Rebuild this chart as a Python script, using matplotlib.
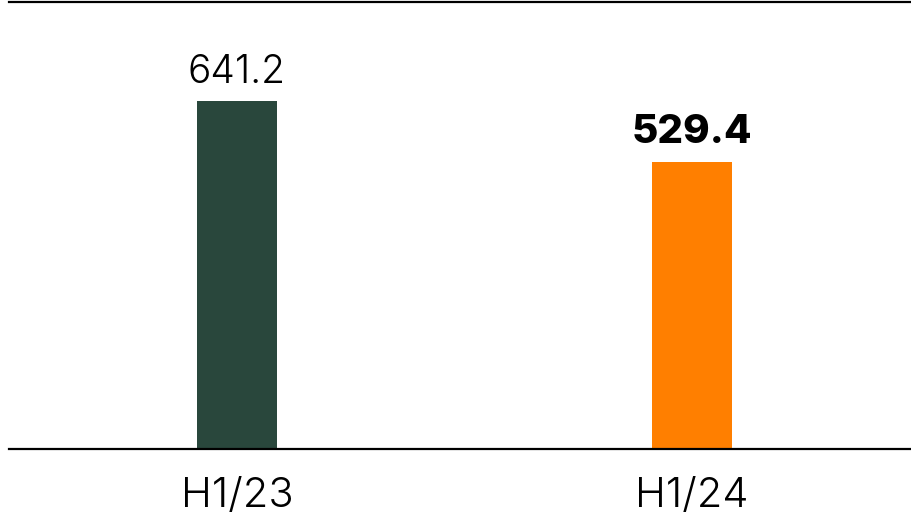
import matplotlib.pyplot as plt

# Datos
categorias = ['H1/23', 'H1/24']
valores = [641.2, 529.4]
colores = ['#29473c', '#ff7f00']

plt.rcParams['font.family'] = ['Inter', 'DejaVu Sans']

fig = plt.figure(figsize=(9.12, 5.15), dpi=100)
ax = fig.add_axes([9 / 912, 66 / 515, 903 / 912, 447 / 515])

x = list(range(len(categorias)))
barras = ax.bar(x, valores, width=0.176, color=colores)

# Etiquetas sobre las barras (la última en negrita)
for i, (xi, v) in enumerate(zip(x, valores)):
    ultima = i == len(valores) - 1
    ax.annotate(f'{v:.1f}', (xi, v), xytext=(0, 7.5), textcoords='offset points',
                ha='center', va='bottom', fontsize=29 if ultima else 28,
                fontweight=800 if ultima else 300, color='black')

ax.set_xlim(-0.501, 1.484)
ax.set_ylim(0, 823.6)
ax.set_xticks(x)
ax.set_xticklabels(categorias, fontsize=30, fontweight=300)
ax.tick_params(axis='x', length=0, pad=20)
ax.set_yticks([])

for lado in ['left', 'right']:
    ax.spines[lado].set_visible(False)
ax.spines['top'].set_linewidth(1.6)
ax.spines['bottom'].set_linewidth(1.6)

fig.savefig('out.png', dpi=100)
